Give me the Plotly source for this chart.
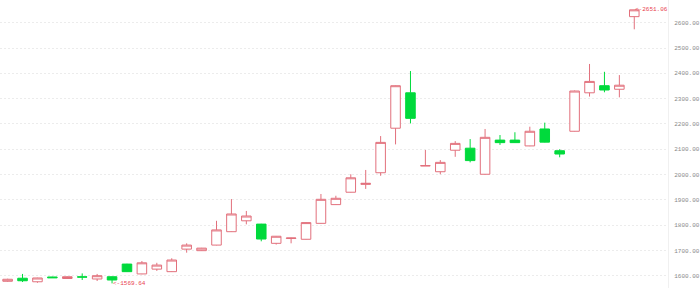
import plotly.graph_objects as go

days = list(range(43))
open_ = [1578, 1590, 1576, 1595, 1589, 1595.5, 1587, 1596, 1646, 1607,
         1626, 1616, 1705, 1699, 1721, 1774, 1817, 1804, 1728, 1747,
         1744, 1807, 1881, 1930, 1961, 2007, 2183, 2323, 2034, 2011,
         2096, 2104, 2001, 2136, 2136, 2113, 2180, 2094, 2171, 2323,
         2351, 2337, 2624]
high = [1588, 1607, 1592, 1596, 1597, 1609, 1607, 1597, 1647, 1658,
        1651, 1669, 1728, 1710, 1817, 1903, 1856, 1805, 1757, 1750,
        1811, 1923, 1916, 2001, 2018, 2152, 2352, 2409, 2097, 2057,
        2132, 2140, 2180, 2156, 2167, 2189, 2205, 2100, 2332, 2437,
        2406, 2393, 2651.06]
low = [1576, 1575, 1572, 1591, 1588, 1583, 1579, 1569.64, 1615, 1606,
       1619, 1615, 1691, 1698, 1720, 1773, 1803, 1736, 1723, 1728,
       1743, 1806, 1880, 1929, 1943, 1995, 2119, 2202, 2034, 2001,
       2070, 2048, 2000, 2117, 2125, 2112, 2127, 2068, 2170, 2308,
       2325, 2305, 2574]
close = [1586, 1580, 1591, 1592, 1596, 1594.5, 1600, 1583, 1616, 1651,
         1642, 1662, 1721, 1709, 1781, 1844, 1836, 1745, 1756, 1749,
         1810, 1902, 1906, 1987, 1965, 2127, 2351, 2222, 2035, 2048,
         2123, 2055, 2147, 2126, 2126, 2171, 2128, 2081, 2330, 2368,
         2334, 2353, 2651]
y_ticks = [1600, 1700, 1800, 1900, 2000, 2100, 2200, 2300, 2400, 2500, 2600]

up_color = "#e2707c"
down_color = "#00da3c"

fig = go.Figure(go.Candlestick(
    x=days, open=open_, high=high, low=low, close=close,
    increasing=dict(line=dict(color=up_color, width=1), fillcolor="#ffffff"),
    decreasing=dict(line=dict(color=down_color, width=1), fillcolor=down_color),
    whiskerwidth=0, showlegend=False,
))

imax = max(range(len(high)), key=lambda i: high[i])
imin = min(range(len(low)), key=lambda i: low[i])
for i, v in [(imax, high[imax]), (imin, low[imin])]:
    fig.add_annotation(x=days[i], y=v, text="<-%.2f" % v, showarrow=False,
                       xanchor="left", yanchor="middle", xshift=-1,
                       font=dict(family="Liberation Mono", size=6, color="#e8434f"))

fig.update_layout(
    width=700, height=288,
    margin=dict(l=0, r=24, t=0, b=0),
    paper_bgcolor="white", plot_bgcolor="white",
    boxgap=0.2, boxgroupgap=0.2,
    xaxis=dict(range=[-0.51, 44.26], showgrid=False, showticklabels=False,
               zeroline=False, showline=False, rangeslider=dict(visible=False)),
    yaxis=dict(side="right", range=[1551.4, 2689.8], tickvals=y_ticks,
               ticktext=["%.2f" % v for v in y_ticks],
               showgrid=True, gridcolor="#ececec", griddash="2px,2px", gridwidth=1,
               zeroline=False, showline=True, linecolor="#f0f0f0", linewidth=1,
               ticks="", ticklabelstandoff=4,
               tickfont=dict(family="Liberation Mono", size=6, color="#8a8a8a")),
)

fig.write_html("out.html")
